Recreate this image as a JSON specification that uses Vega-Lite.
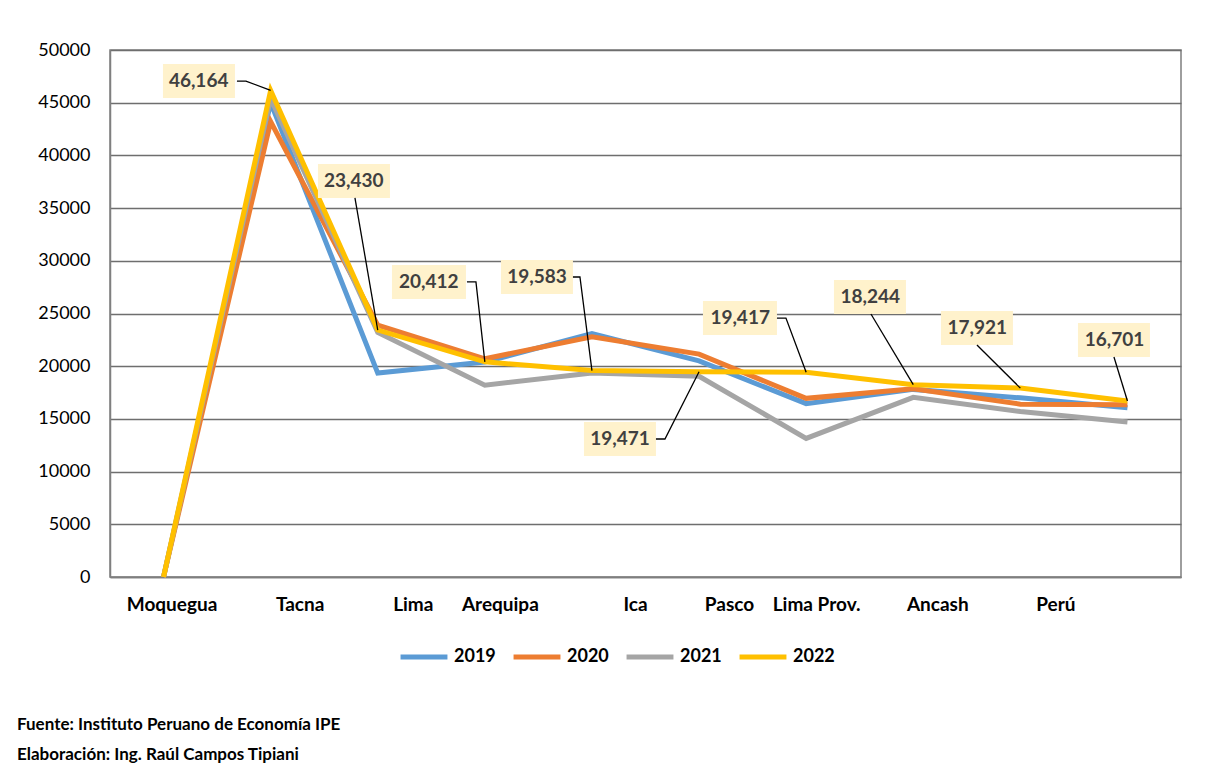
{
  "$schema": "https://vega.github.io/schema/vega-lite/v6.json",
  "width": 1071,
  "height": 527,
  "autosize": {"type": "none"},
  "padding": {"left": 110, "top": 50, "right": 24, "bottom": 191},
  "background": "white",
  "config": {
    "font": "Lato",
    "view": {"stroke": "#7f7f7f", "strokeWidth": 1.5},
    "axis": {"labelFont": "Lato", "labelColor": "#000000"}
  },
  "title": {
    "text": ["Fuente: Instituto Peruano de Economía IPE", "Elaboración: Ing. Raúl Campos Tipiani"],
    "orient": "bottom",
    "anchor": "start",
    "frame": "group",
    "dx": -93,
    "offset": 50,
    "fontSize": 17,
    "fontWeight": "bold",
    "font": "Lato",
    "color": "#000000",
    "lineHeight": 30
  },
  "resolve": {"scale": {"shape": "independent"}},
  "data": {
    "values": [
      {"region": "Moquegua", "year": "2019", "value": 0},
      {"region": "Tacna", "year": "2019", "value": 45000},
      {"region": "Lima", "year": "2019", "value": 19350},
      {"region": "Arequipa", "year": "2019", "value": 20400},
      {"region": "Ica", "year": "2019", "value": 23100},
      {"region": "Pasco", "year": "2019", "value": 20500},
      {"region": "Lima Prov.", "year": "2019", "value": 16450},
      {"region": "Ancash", "year": "2019", "value": 17800},
      {"region": "Perú", "year": "2019", "value": 17000},
      {"region": " ", "year": "2019", "value": 16050},
      {"region": "Moquegua", "year": "2020", "value": 0},
      {"region": "Tacna", "year": "2020", "value": 43200},
      {"region": "Lima", "year": "2020", "value": 23900},
      {"region": "Arequipa", "year": "2020", "value": 20700},
      {"region": "Ica", "year": "2020", "value": 22800},
      {"region": "Pasco", "year": "2020", "value": 21150},
      {"region": "Lima Prov.", "year": "2020", "value": 16950},
      {"region": "Ancash", "year": "2020", "value": 17850},
      {"region": "Perú", "year": "2020", "value": 16400},
      {"region": " ", "year": "2020", "value": 16350},
      {"region": "Moquegua", "year": "2021", "value": 0},
      {"region": "Tacna", "year": "2021", "value": 45400},
      {"region": "Lima", "year": "2021", "value": 23200},
      {"region": "Arequipa", "year": "2021", "value": 18200},
      {"region": "Ica", "year": "2021", "value": 19350},
      {"region": "Pasco", "year": "2021", "value": 19050},
      {"region": "Lima Prov.", "year": "2021", "value": 13150},
      {"region": "Ancash", "year": "2021", "value": 17050},
      {"region": "Perú", "year": "2021", "value": 15700},
      {"region": " ", "year": "2021", "value": 14700},
      {"region": "Moquegua", "year": "2022", "value": 0},
      {"region": "Tacna", "year": "2022", "value": 46164},
      {"region": "Lima", "year": "2022", "value": 23430},
      {"region": "Arequipa", "year": "2022", "value": 20412},
      {"region": "Ica", "year": "2022", "value": 19583},
      {"region": "Pasco", "year": "2022", "value": 19471},
      {"region": "Lima Prov.", "year": "2022", "value": 19417},
      {"region": "Ancash", "year": "2022", "value": 18244},
      {"region": "Perú", "year": "2022", "value": 17921},
      {"region": " ", "year": "2022", "value": 16701}
    ]
  },
  "encoding": {
    "x": {
      "field": "region",
      "type": "nominal",
      "sort": ["Moquegua", "Tacna", "Lima", "Arequipa", "Ica", "Pasco", "Lima Prov.", "Ancash", "Perú", " "],
      "scale": {"type": "point", "padding": 0.5},
      "axis": {
        "title": null,
        "labelAngle": 0,
        "labelFontSize": 19,
        "labelFontWeight": "bold",
        "labelPadding": 18,
        "ticks": false,
        "grid": false,
        "domainColor": "#7f7f7f",
        "domainWidth": 1.5,
        "labelOffset": {
          "condition": [
            {"test": "datum.value === 'Moquegua'", "value": 8},
            {"test": "datum.value === 'Tacna'", "value": 29},
            {"test": "datum.value === 'Lima'", "value": 35},
            {"test": "datum.value === 'Arequipa'", "value": 15},
            {"test": "datum.value === 'Ica'", "value": 43},
            {"test": "datum.value === 'Pasco'", "value": 30},
            {"test": "datum.value === 'Lima Prov.'", "value": 10},
            {"test": "datum.value === 'Ancash'", "value": 24},
            {"test": "datum.value === 'Perú'", "value": 35}
          ],
          "value": 0
        }
      }
    },
    "y": {
      "field": "value",
      "type": "quantitative",
      "scale": {"domain": [0, 50000], "nice": false},
      "axis": {
        "title": null,
        "values": [0, 5000, 10000, 15000, 20000, 25000, 30000, 35000, 40000, 45000, 50000],
        "format": "d",
        "labelFontSize": 18,
        "labelPadding": 20,
        "ticks": false,
        "grid": true,
        "gridColor": "#6e6e6e",
        "gridWidth": 1.5,
        "domainColor": "#7f7f7f",
        "domainWidth": 1.5
      }
    }
  },
  "layer": [
    {
      "mark": {"type": "line", "strokeWidth": 5},
      "encoding": {
        "color": {
          "field": "year",
          "type": "nominal",
          "scale": {"domain": ["2019", "2020", "2021", "2022"], "range": ["#5B9BD5", "#ED7D31", "#A5A5A5", "#FFC000"]},
          "legend": {
            "title": null,
            "orient": "none",
            "direction": "horizontal",
            "legendX": 288,
            "legendY": 581,
            "symbolType": "stroke",
            "symbolSize": 2200,
            "symbolStrokeWidth": 5,
            "labelFontSize": 18,
            "labelFontWeight": "bold",
            "labelFont": "Lato",
            "labelColor": "#000000",
            "labelOffset": 4,
            "columnPadding": 7
          }
        }
      }
    },
    {
      "transform": [{"filter": "datum.year === '2022' && datum.region !== 'Moquegua'"}],
      "mark": {"type": "point", "filled": true, "fill": "#FFF2CC", "opacity": 1, "strokeWidth": 0, "size": 10000},
      "encoding": {
        "shape": {
          "field": "region",
          "type": "nominal",
          "legend": null,
          "scale": {
            "domain": ["Tacna", "Lima", "Arequipa", "Ica", "Pasco", "Lima Prov.", "Ancash", "Perú", " "],
            "range": [
              "M-2.154,-0.528H-0.714V0.152H-2.154Z",
              "M-1.196,-3.322H0.244V-2.642H-1.196Z",
              "M-1.858,-1.938H-0.378V-1.258H-1.858Z",
              "M-1.82,-2.212H-0.38V-1.532H-1.82Z",
              "M-2.302,1.004H-0.862V1.684H-2.302Z",
              "M-2.064,-1.426H-0.584V-0.746H-2.064Z",
              "M-1.586,-2.094H-0.146V-1.414H-1.586Z",
              "M-1.588,-1.542H-0.148V-0.862H-1.588Z",
              "M-0.99,-1.56H0.45V-0.88H-0.99Z"
            ]
          }
        }
      }
    },
    {
      "transform": [{"filter": "datum.year === '2022' && datum.region !== 'Moquegua'"}],
      "mark": {"type": "point", "filled": false, "stroke": "#000000", "strokeWidth": 1.3, "opacity": 1, "size": 10000},
      "encoding": {
        "shape": {
          "field": "region",
          "type": "nominal",
          "legend": null,
          "scale": {
            "domain": ["Tacna", "Lima", "Arequipa", "Ica", "Pasco", "Lima Prov.", "Ancash", "Perú", " "],
            "range": [
              "M-0.674,-0.188L-0.494,-0.188L0,0",
              "M-0.456,-2.642L0,0",
              "M-0.358,-1.598L-0.178,-1.598L0,0",
              "M-0.38,-1.872L-0.24,-1.872L0,0",
              "M-0.862,1.344L-0.682,1.344L0,0",
              "M-0.584,-1.086L-0.404,-1.086L0,0",
              "M-0.846,-1.414L0,0",
              "M-0.868,-0.862L0,0",
              "M-0.27,-0.88L0,0"
            ]
          }
        }
      }
    },
    {
      "transform": [{"filter": "datum.year === '2022' && datum.region !== 'Moquegua'"}],
      "mark": {
        "type": "text",
        "font": "Lato",
        "fontSize": 19,
        "fontWeight": "bold",
        "color": "#404040",
        "align": "center",
        "baseline": "middle",
        "dx": {"expr": "[-72, -24, -56, -55, -79, -66, -43, -43, -13][indexof(['Tacna', 'Lima', 'Arequipa', 'Ica', 'Pasco', 'Lima Prov.', 'Ancash', 'Perú', ' '], datum.region)]"},
        "dy": {"expr": "[-9, -149, -80, -94, 67, -54, -88, -60, -61][indexof(['Tacna', 'Lima', 'Arequipa', 'Ica', 'Pasco', 'Lima Prov.', 'Ancash', 'Perú', ' '], datum.region)]"}
      },
      "encoding": {
        "text": {"field": "value", "type": "quantitative", "format": ",d"}
      }
    }
  ]
}
